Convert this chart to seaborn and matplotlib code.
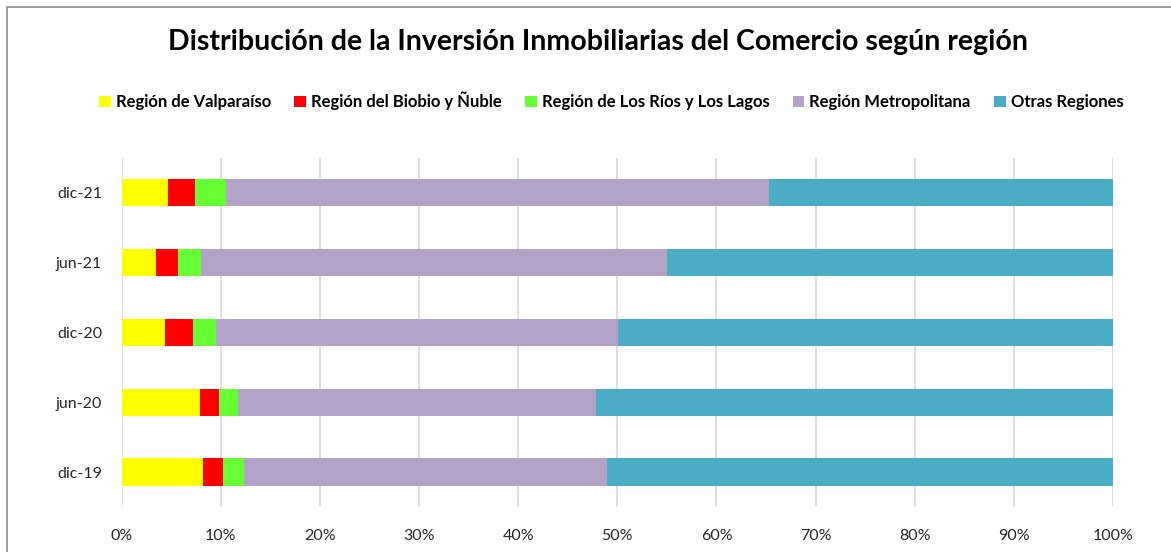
import numpy as np
import pandas as pd
import seaborn as sns
from matplotlib import pyplot as plt
from matplotlib.patches import Patch
from matplotlib.lines import Line2D

periods = ['dic-21', 'jun-21', 'dic-20', 'jun-20', 'dic-19']
series_names = ['Región de Valparaíso', 'Región del Biobio y Ñuble',
                'Región de Los Ríos y Los Lagos', 'Región Metropolitana', 'Otras Regiones']
valparaiso = [4.7, 3.5, 4.4, 7.9, 8.2]
biobio = [2.7, 2.2, 2.8, 1.9, 2.0]
los_rios = [3.1, 2.3, 2.3, 1.9, 2.1]
metropolitana = [54.8, 47.0, 40.6, 36.1, 36.7]
otras = [34.7, 45.0, 49.9, 52.2, 51.0]
colors = ['#FFFF00', '#FF0000', '#66FF33', '#B3A2C7', '#4BACC6']

sns.set_style('white')
plt.rcParams['font.family'] = ['Lato', 'DejaVu Sans']

df = pd.DataFrame({'periodo': periods})
for name, vals in zip(series_names, [valparaiso, biobio, los_rios, metropolitana, otras]):
    df[name] = vals
# cumulative for stacking, as shares of the row total
tot = df[series_names].sum(axis=1)
cum = df[series_names].cumsum(axis=1).div(tot, axis=0)
cum['periodo'] = df['periodo']

fig = plt.figure(figsize=(11.71, 5.52), dpi=100)
ax = fig.add_axes([0.1039, 0.0815, 0.8466, 0.6323])

for name, color in reversed(list(zip(series_names, colors))):
    sns.barplot(data=cum, x=name, y='periodo', order=periods, orient='h', color=color,
                width=0.39, saturation=1, edgecolor='none', linewidth=0, ax=ax, zorder=3)

ax.set_xlim(0, 1)
ax.set_ylim(4.5, -0.5)
ticks = np.arange(0, 1.01, 0.1)
ax.set_xticks(ticks)
ax.set_xticklabels(['{}%'.format(int(round(t * 100))) for t in ticks], fontsize=11.5, color='#262626')
ax.tick_params(axis='y', labelsize=11.5, labelcolor='#262626', length=0, pad=14)
ax.tick_params(axis='x', length=0, pad=16)
ax.set_xlabel('')
ax.set_ylabel('')
ax.grid(axis='x', color='#d9d9d9', linewidth=1.2, zorder=0)
ax.set_axisbelow(True)
for s in ax.spines.values():
    s.set_visible(False)

fig.text(0.511, 0.924, 'Distribución de la Inversión Inmobiliarias del Comercio según región',
         ha='center', va='center', fontsize=20.5, fontweight='bold', color='black')

handles = [Patch(facecolor=c, edgecolor='none') for c in colors]
fig.legend(handles, series_names, loc='center', bbox_to_anchor=(0.522, 0.817), ncol=5,
           frameon=False, prop={'weight': 'bold', 'size': 12}, handlelength=0.7,
           handleheight=0.7, handletextpad=0.3, columnspacing=1.4, labelcolor='black')

# outer frame (top and left visible)
fig.add_artist(Line2D([7 / 1171, 7 / 1171], [0, 1 - 7 / 552], color='#8c8c8c', linewidth=1.2))
fig.add_artist(Line2D([7 / 1171, 1], [1 - 7 / 552, 1 - 7 / 552], color='#8c8c8c', linewidth=1.2))

fig.savefig('out.png', dpi=100)
